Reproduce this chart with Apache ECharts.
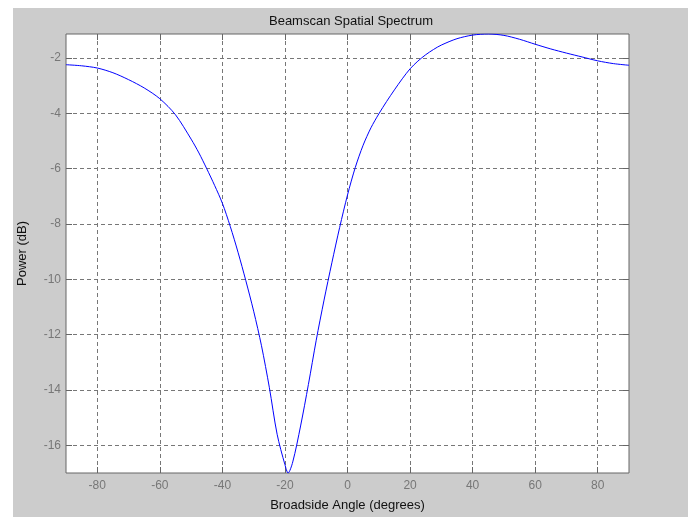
<!DOCTYPE html>
<html>
<head>
<meta charset="utf-8">
<script src="https://cdn.jsdelivr.net/npm/echarts@6/dist/echarts.min.js"></script>
<style>
  html, body { margin: 0; padding: 0; background: #fff; }
  #main { width: 688px; height: 517px; }
</style>
</head>
<body>
<div id="main"></div>
<script>
// beamscan spectrum (degrees, dB)
var angles = [-90, -85, -80, -75, -70, -65, -60, -55, -50, -47.5, -45, -42.5, -40, -37.5, -35, -32.5, -30, -27.5,
    -25, -22.5, -20, -19, -17.5, -15, -12.5, -10, -7.5, -5, -2.5, 0, 2.5, 5, 7.5, 10, 12.5, 15, 17.5, 20,
    22.5, 25, 27.5, 30, 35, 40, 45, 50, 55, 60, 65, 70, 75, 80, 85, 90];
var power = [-2.24, -2.28, -2.36, -2.53, -2.78, -3.08, -3.47, -4.05, -4.93, -5.43, -6.0, -6.6, -7.25, -8.08, -9.02, -10.05, -11.15, -12.4,
    -13.9, -15.6, -16.7, -17.0, -16.6, -15.3, -13.8, -12.2, -10.75, -9.4, -8.12, -6.95, -5.95, -5.15, -4.52, -4.02, -3.57, -3.15, -2.75, -2.39,
    -2.11, -1.88, -1.69, -1.53, -1.3, -1.17, -1.13, -1.18, -1.32, -1.5, -1.67, -1.82, -1.96, -2.1, -2.2, -2.26];
var xTicks = [-80, -60, -40, -20, 0, 20, 40, 60, 80];
var yTicks = [-16, -14, -12, -10, -8, -6, -4, -2];

var points = [];
for (var i = 0; i < angles.length; i++) {
    points.push([angles[i], power[i]]);
}

var chart = echarts.init(document.getElementById('main'));

var font = 'Arial, "Liberation Sans", sans-serif';
var gridLine = { show: true, lineStyle: { color: '#777', type: [4, 3], width: 1 } };

function xAxisOf(pos, labels) {
    return {
        type: 'value', position: pos, min: -90, max: 90,
        name: labels ? 'Broadside Angle (degrees)' : '',
        nameLocation: 'middle', nameGap: 26,
        nameTextStyle: { color: '#111', fontSize: 13, fontFamily: font },
        axisLine: { show: false, onZero: false },
        axisTick: { show: true, inside: true, length: 6, customValues: xTicks, lineStyle: { color: '#666' } },
        axisLabel: { show: labels, customValues: xTicks, color: '#777', fontSize: 12, fontFamily: font, margin: 7 },
        splitLine: labels ? gridLine : { show: false }
    };
}

function yAxisOf(pos, labels) {
    return {
        type: 'value', position: pos, min: -17, max: -1.13,
        name: labels ? 'Power (dB)' : '',
        nameLocation: 'middle', nameGap: 37,
        nameTextStyle: { color: '#111', fontSize: 13, fontFamily: font },
        axisLine: { show: false, onZero: false },
        axisTick: { show: true, inside: true, length: 6, customValues: yTicks, lineStyle: { color: '#666' } },
        axisLabel: { show: labels, customValues: yTicks, color: '#777', fontSize: 12, fontFamily: font, margin: 5 },
        splitLine: labels ? gridLine : { show: false }
    };
}

var option = {
    backgroundColor: '#fff',
    animation: false,
    graphic: [{
        type: 'rect', z: -10, silent: true,
        shape: { x: 13, y: 8, width: 675, height: 509 },
        style: { fill: '#cccccc' }
    }],
    title: {
        text: 'Beamscan Spatial Spectrum',
        left: 346, top: 10, textAlign: 'center',
        textStyle: { color: '#111', fontSize: 13, fontWeight: 'normal', fontFamily: font }
    },
    grid: {
        left: 66, top: 34, right: 59, bottom: 39,
        show: true, backgroundColor: '#fff', borderColor: '#666', borderWidth: 1
    },
    xAxis: [xAxisOf('bottom', true), xAxisOf('top', false)],
    yAxis: [yAxisOf('left', true), yAxisOf('right', false)],
    series: [{
        type: 'line',
        data: points,
        showSymbol: false,
        smooth: 0.3,
        lineStyle: { color: '#0000ff', width: 1 },
        itemStyle: { color: '#0000ff' }
    }]
};

chart.setOption(option);
</script>
</body>
</html>
